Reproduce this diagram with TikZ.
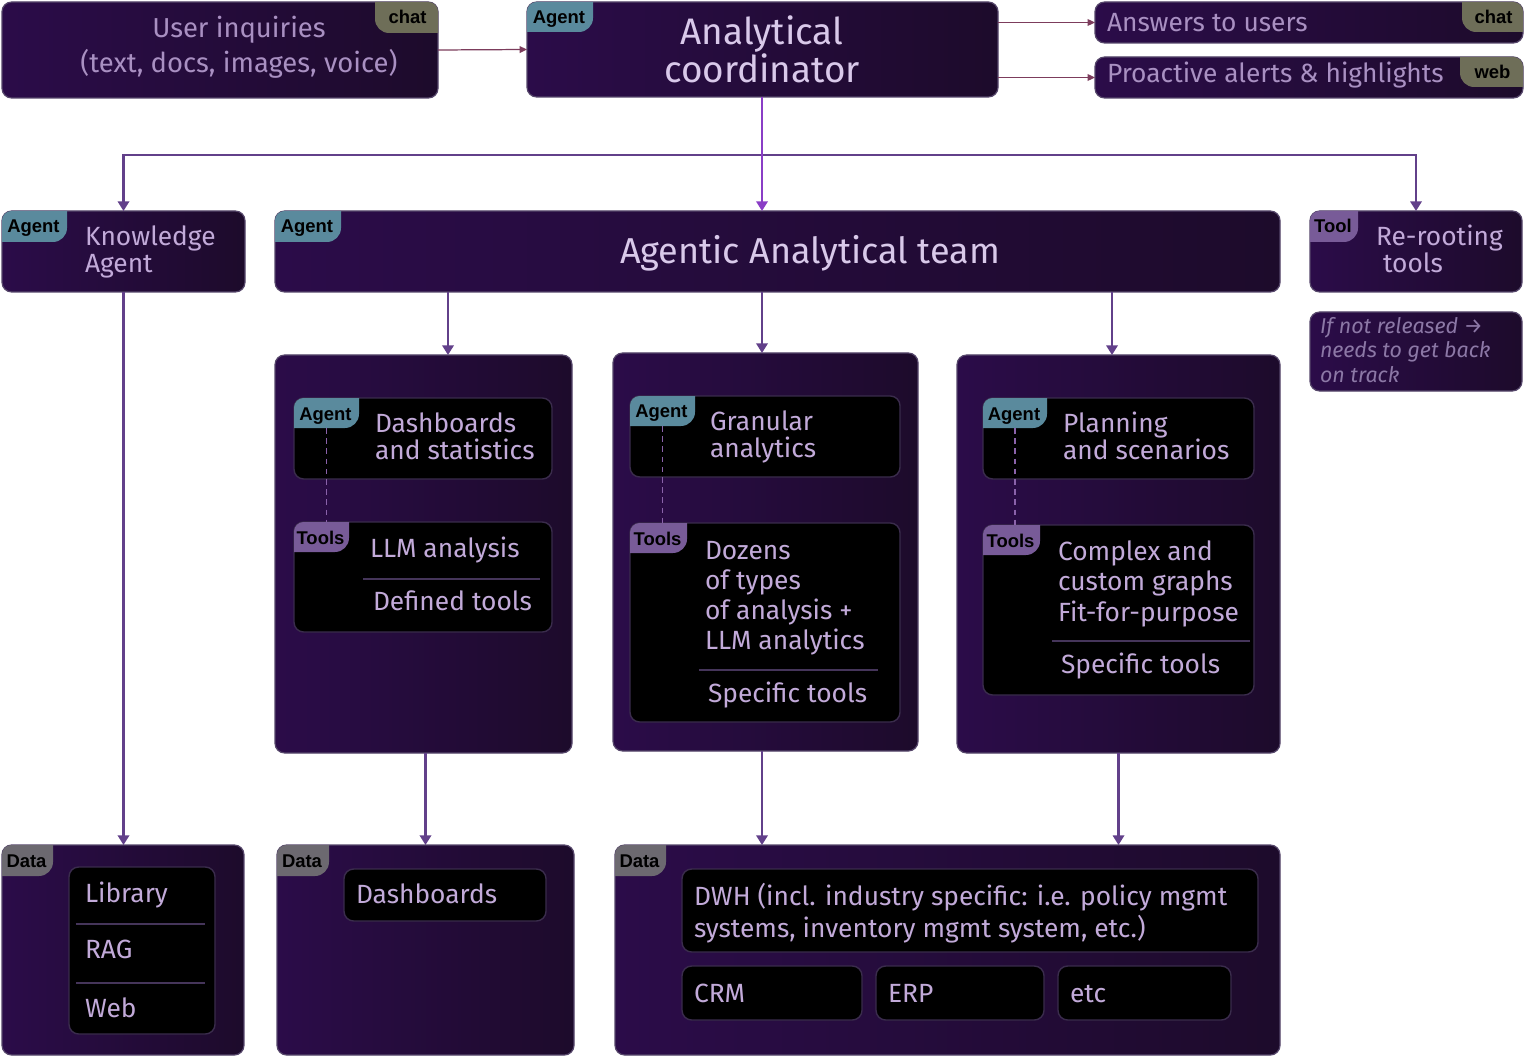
\documentclass[tikz,border=0pt]{standalone}
\usepackage{fontspec}
\setmainfont{Fira Sans}
\newfontfamily\tagfont{Liberation Sans}
\usetikzlibrary{arrows.meta,calc}
\definecolor{boxA}{HTML}{2B0C49}
\definecolor{boxB}{HTML}{1D0B2B}
\definecolor{boxline}{HTML}{55466A}
\definecolor{innerline}{HTML}{3A2C4C}
\definecolor{txt}{HTML}{C2AAD9}
\definecolor{txtdim}{HTML}{A990C2}
\definecolor{txthi}{HTML}{D9C9EA}
\definecolor{notec}{HTML}{8C78A6}
\definecolor{agenttag}{HTML}{5A8A9D}
\definecolor{tooltag}{HTML}{785B98}
\definecolor{datatag}{HTML}{6C6970}
\definecolor{chattag}{HTML}{6E6E58}
\definecolor{arrowp}{HTML}{62408A}
\definecolor{arrowb}{HTML}{8A3DC6}
\definecolor{arrowm}{HTML}{7C3C5C}
\definecolor{dashc}{HTML}{8A62AA}
\definecolor{divc}{HTML}{45355A}
\newcommand\fs[2]{\fontsize{#1}{#2}\selectfont}
\newcommand\pbox[6]{\node[#1, anchor=north west, minimum width={(#5-#3)*0.02cm}, minimum height={(#6-#4)*0.02cm}] (#2) at (#3,#4) {};}
\newcommand\tagNW[5]{%
  \begin{scope}
    \clip[rounded corners=5.5pt] (#1.north west) rectangle (#1.south east);
    \fill[#4, rounded corners=8pt] ($(#1.north west)+(-20,-20)$) rectangle ($(#1.north west)+(#2,#3)$);
  \end{scope}
  \coordinate (#1tb) at ($(#1.north west)+(#2/2,#3)$);
  \node[tagtxt] (#1tag) at ($(#1.north west)+(#2/2-1,22)$) {#5};}
\newcommand\tagNE[5]{%
  \begin{scope}
    \clip[rounded corners=5.5pt] (#1.north west) rectangle (#1.south east);
    \fill[#4, rounded corners=8pt] ($(#1.north east)+(20,-20)$) rectangle ($(#1.north east)+(-#2,#3)$);
  \end{scope}
  \node[tagtxt] (#1tag) at ($(#1.north east)+(-#2/2+1,22)$) {#5};}
\begin{document}
\begin{tikzpicture}[x=0.02cm, y=-0.02cm,
  box/.style={draw=boxline, line width=0.7pt, rounded corners=5.5pt, left color=boxA, right color=boxB, inner sep=0, outer sep=0},
  inbox/.style={draw=innerline, line width=0.8pt, fill=black, rounded corners=5.5pt, inner sep=0, outer sep=0},
  tagtxt/.style={font=\tagfont\bfseries\fs{10.5}{12}, text=black, anchor=base, inner sep=0},
  t/.style={inner sep=0, outer sep=0, text=txt, font=\fs{15}{16}, anchor=base west},
  dashl/.style={draw=dashc, line width=0.9pt, dash pattern=on 3.2pt off 2.6pt},
  divl/.style={draw=divc, line width=0.9pt},
  conn/.style={draw=arrowp, line width=1.2pt, -{Triangle[width=6.5pt,length=5.5pt]}},
  connb/.style={draw=arrowb, line width=1.2pt, -{Triangle[width=6.5pt,length=5.5pt]}},
  connm/.style={draw=arrowm, line width=0.7pt, -{Triangle[width=3.8pt,length=4.2pt]}}]
\fill[white] (0,0) rectangle (1524,1057);
\useasboundingbox (0,0) rectangle (1524,1057);

% top row
\pbox{box}{ui}{2}{2}{438}{98}
\tagNE{ui}{63}{31}{chattag}{chat}
\node[t, text=txtdim, align=center, anchor=base, font=\fs{15.6}{20.4}] (uit) at (239,73) {User inquiries\\(text, docs, images, voice)};

\pbox{box}{coord}{527}{2}{998}{97}
\tagNW{coord}{66}{30}{agenttag}{Agent}
\node[t, text=txthi, align=center, anchor=base, font=\fs{21}{19.8}] (coordt) at (762,83) {Analytical\\coordinator};

\pbox{box}{ans}{1095}{2}{1523}{43}
\tagNE{ans}{61}{30}{chattag}{chat}
\node[t, text=txtdim] (anst) at (1107,32) {Answers to users};
\pbox{box}{pro}{1095}{57}{1523}{98}
\tagNE{pro}{63}{30}{chattag}{web}
\node[t, text=txtdim] (prot) at (1107,83) {Proactive alerts \& highlights};

% second row
\pbox{box}{know}{2}{211}{245}{292}
\tagNW{know}{65}{31}{agenttag}{Agent}
\node[t, align=left, font=\fs{15}{15.9}] (knowt) at (85,273) {Knowledge\\Agent};

\pbox{box}{team}{275}{211}{1280}{292}
\tagNW{team}{66}{31}{agenttag}{Agent}
\node[t, text=txthi, anchor=base, font=\fs{20.5}{22}] (teamt) at (810,264) {Agentic Analytical team};

\pbox{box}{rr}{1310}{211}{1522}{292}
\tagNW{rr}{48}{31}{tooltag}{Tool}
\node[t, align=left, font=\fs{15}{15.9}] (rrt) at (1376,273) {Re-rooting\\\hspace*{4pt}tools};

\pbox{box}{notebox}{1310}{312}{1522}{391}
\node[t, text=notec, align=left, font=\itshape\fs{12.2}{13.8}] (notet) at (1320,382) {If not released →\\needs to get back\\on track};

% container 1
\pbox{box}{c1}{275}{355}{572}{753}
\pbox{inbox}{a1}{294}{398}{552}{479}
\tagNW{a1}{65}{30}{agenttag}{Agent}
\pbox{inbox}{t1}{294}{522}{552}{632}
\tagNW{t1}{55}{30}{tooltag}{Tools}
\draw[dashl] (a1tb) -- (a1tb |- t1.north);
\node[t, align=left, font=\fs{15}{15.3}] (a1t) at (375,459) {Dashboards\\and statistics};
\node[t] (t1a) at (370,557) {LLM analysis};
\draw[divl] (363,579) -- (540,579);
\node[t] (t1b) at (373,610) {Defined tools};

% container 2
\pbox{box}{c2}{613}{353}{918}{751}
\pbox{inbox}{a2}{630}{396}{900}{477}
\tagNW{a2}{65}{30}{agenttag}{Agent}
\pbox{inbox}{t2}{630}{523}{900}{722}
\tagNW{t2}{57}{30}{tooltag}{Tools}
\draw[dashl] (a2tb) -- (a2tb |- t2.north);
\node[t, align=left, font=\fs{15}{15.3}] (a2t) at (710,457) {Granular\\analytics};
\node[t, align=left, font=\fs{15}{17}] (t2a) at (705,649) {Dozens\\of types\\of analysis +\\LLM analytics};
\draw[divl] (699,670) -- (878,670);
\node[t] (t2b) at (708,702) {Specific tools};

% container 3
\pbox{box}{c3}{957}{355}{1280}{753}
\pbox{inbox}{a3}{983}{398}{1254}{479}
\tagNW{a3}{64}{30}{agenttag}{Agent}
\pbox{inbox}{t3}{983}{525}{1254}{695}
\tagNW{t3}{57}{30}{tooltag}{Tools}
\draw[dashl] (a3tb) -- (a3tb |- t3.north);
\node[t, align=left, font=\fs{15}{15.3}] (a3t) at (1063,459) {Planning\\and scenarios};
\node[t, align=left, font=\fs{15}{17.3}] (t3a) at (1058,621) {Complex and\\custom graphs\\Fit-for-purpose};
\draw[divl] (1052,641) -- (1250,641);
\node[t] (t3b) at (1061,673) {Specific tools};

% data row
\pbox{box}{d1}{2}{845}{244}{1055}
\tagNW{d1}{51}{31}{datatag}{Data}
\pbox{inbox}{l1}{69}{867}{215}{1034}
\node[t] (lib) at (85,902) {Library};
\draw[divl] (76,924) -- (205,924);
\node[t] (rag) at (85,958) {RAG};
\draw[divl] (76,983) -- (205,983);
\node[t] (web) at (85,1017) {Web};

\pbox{box}{d2}{277}{845}{574}{1055}
\tagNW{d2}{52}{31}{datatag}{Data}
\pbox{inbox}{l2}{344}{869}{546}{921}
\node[t] (dsh) at (356,903) {Dashboards};

\pbox{box}{d3}{615}{845}{1280}{1055}
\tagNW{d3}{51}{31}{datatag}{Data}
\pbox{inbox}{dwh}{682}{869}{1258}{952}
\node[t, align=left, font=\fs{15}{18.1}] (dwht) at (694,937) {DWH (incl. industry specific: i.e. policy mgmt\\systems, inventory mgmt system, etc.)};
\pbox{inbox}{crm}{682}{966}{862}{1020}
\pbox{inbox}{erp}{876}{966}{1044}{1020}
\pbox{inbox}{etcb}{1058}{966}{1231}{1020}
\node[t] (crmt) at (694,1002) {CRM};
\node[t] (erpt) at (888,1002) {ERP};
\node[t] (etct) at (1070,1002) {etc};

% connectors
\draw[connm] (ui.east) -- (coord.west);
\draw[connm] (coord.east |- ans.west) -- (ans.west);
\draw[connm] (coord.east |- pro.west) -- (pro.west);
\coordinate (split) at (762,155);
\draw[conn] (split) -| (know.north);
\draw[conn] (split) -| (rr.north);
\draw[connb] (coord.south -| split) -- (split |- team.north);
\coordinate (k1) at (448,0);
\draw[conn] (team.south -| k1) -- (c1.north -| k1);
\draw[conn] (team.south -| split) -- (c2.north -| split);
\coordinate (k3) at (1112,0);
\draw[conn] (team.south -| k3) -- (c3.north -| k3);
\draw[conn] (know.south) -- (know.south |- d1.north);
\draw[conn] (c1.south -| d2.north) -- (d2.north);
\draw[conn] (c2.south -| split) -- (d3.north -| split);
\draw[conn] (c3.south) -- (c3.south |- d3.north);
\end{tikzpicture}
\end{document}
